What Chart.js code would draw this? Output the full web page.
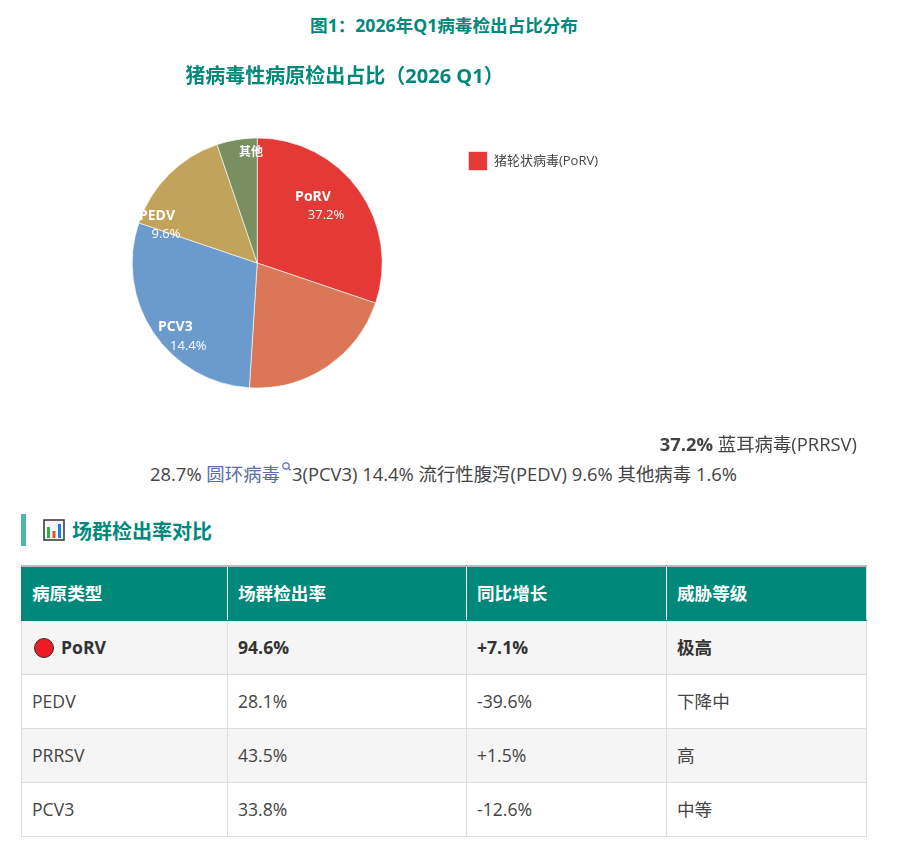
<!DOCTYPE html>
<html lang="zh">
<head>
  <meta charset="UTF-8">
  <title>2026年Q1病毒检出占比分布</title>
  <script src="https://cdn.jsdelivr.net/npm/chart.js"></script>
  <style>
    html, body { margin: 0; padding: 0; background: #fff; }
    body { width: 897px; height: 844px; position: relative; overflow: hidden; color: #444; font-family: "Open Sans", "Noto Sans CJK SC", sans-serif; font-size: 17.6px; }
    .fig-title { position: absolute; left: 0; width: 888px; top: 13px; text-align: center; font-size: 17.6px; line-height: 24px; font-weight: 700; color: #00897b; }
    .chart-box { position: absolute; left: 0; top: 48px; width: 680px; height: 400px; }
    .line { position: absolute; line-height: 26px; white-space: nowrap; font-size: 18.4px; }
    .line1 { right: 40px; top: 431px; }
    .line2 { left: 150px; top: 461px; }
    .link { color: #5a6fa5; }
    .section { position: absolute; left: 21px; top: 514px; height: 32px; border-left: 5px solid #4db6ac; padding-left: 17px; display: flex; align-items: center; font-size: 20px; font-weight: 700; color: #00897b; }
    .section svg { margin-right: 7px; }
    table { position: absolute; left: 21px; top: 565px; width: 845px; border-collapse: collapse; table-layout: fixed; border-top: 2px solid #bbb; }
    th, td { height: 51px; padding: 0 10px 2px; text-align: left; border: 1px solid #ddd; line-height: 24px; }
    th { background: #00897b; color: #fff; font-weight: 700; border-color: #00897b; border-right-color: #fff; }
    th:last-child { border-right-color: #ddd; }
    tr.alt td { background: #f5f5f5; }
    tr.top td { font-weight: 700; color: #333; }
    .dot { display: inline-block; width: 20px; height: 20px; border-radius: 50%; background: #ed1c24; border: 1px solid #333; vertical-align: -4px; margin-right: 7px; margin-left: 2px; box-sizing: border-box; }
  </style>
</head>
<body>
  <div class="fig-title">图1：2026年Q1病毒检出占比分布</div>
  <div class="chart-box"><canvas id="pieChart" width="680" height="400"></canvas></div>

  <div class="line line1"><b>37.2%</b> 蓝耳病毒(PRRSV)</div>
  <div class="line line2">28.7% <span class="link">圆环病毒</span><svg width="12" height="14" viewBox="0 0 12 14" style="vertical-align:6px"><circle cx="6" cy="5" r="3.2" fill="none" stroke="#5a6fa5" stroke-width="1.2"/><line x1="8.4" y1="7.4" x2="10.5" y2="9.5" stroke="#5a6fa5" stroke-width="1.2"/></svg>3(PCV3) 14.4% 流行性腹泻(PEDV) 9.6% 其他病毒 1.6%</div>

  <div class="section">
    <svg width="22" height="22" viewBox="0 0 22 22"><rect x="1" y="1" width="20" height="20" fill="#f4f4f4" stroke="#333" stroke-width="1.5"/><rect x="4" y="8" width="3" height="11" fill="#2fb344"/><rect x="9.5" y="12" width="3" height="7" fill="#e5532d"/><rect x="15" y="5" width="3" height="14" fill="#1f7fdc"/></svg>
    <span>场群检出率对比</span>
  </div>

  <table>
    <colgroup><col style="width:206px"><col style="width:239px"><col style="width:200px"><col style="width:200px"></colgroup>
    <thead id="tableHead"></thead>
    <tbody id="tableBody"></tbody>
  </table>

  <script>
    // pie data, clockwise from 12 o'clock
    const legendNames = ['猪轮状病毒(PoRV)', '蓝耳病毒(PRRSV)', '圆环病毒3(PCV3)', '流行性腹泻(PEDV)', '其他病毒'];
    const sliceValues = [30.2, 20.8, 29.2, 14.6, 5.2];
    const sliceColors = ['#e53935', '#d97757', '#6b9bcd', '#c2a35c', '#7a8f5f'];
    const sliceNames = ['PoRV', '', 'PCV3', 'PEDV', '其他'];
    const sliceShares = ['37.2%', '', '14.4%', '9.6%', ''];

    // table data
    const tableHeaders = ['病原类型', '场群检出率', '同比增长', '威胁等级'];
    const pathogens = ['PoRV', 'PEDV', 'PRRSV', 'PCV3'];
    const detectionRates = ['94.6%', '28.1%', '43.5%', '33.8%'];
    const yoyChanges = ['+7.1%', '-39.6%', '+1.5%', '-12.6%'];
    const threatLevels = ['极高', '下降中', '高', '中等'];

    document.getElementById('tableHead').innerHTML =
      '<tr>' + tableHeaders.map(h => `<th>${h}</th>`).join('') + '</tr>';
    document.getElementById('tableBody').innerHTML = pathogens.map((p, i) => {
      const cls = (i % 2 === 0 ? 'alt' : '') + (i === 0 ? ' top' : '');
      const dot = i === 0 ? '<span class="dot"></span>' : '';
      return `<tr class="${cls}"><td>${dot}${p}</td><td>${detectionRates[i]}</td><td>${yoyChanges[i]}</td><td>${threatLevels[i]}</td></tr>`;
    }).join('');

    const fontFamily = '"Open Sans", "Noto Sans CJK SC", sans-serif';

    // labels sit on the slices, nudged off the arc centre
    const labelOffsets = [
      { name: [5, -30], share: [18, -11] },
      null,
      { name: [-30, 29], share: [-17, 48] },
      { name: [-56, -3], share: [-47, 15] },
      { name: [4, -49], share: [0, 0] }
    ];

    const sliceLabels = {
      id: 'sliceLabels',
      afterDatasetsDraw(chart) {
        const { ctx } = chart;
        const arcs = chart.getDatasetMeta(0).data;
        ctx.save();
        ctx.fillStyle = '#fff';
        ctx.textAlign = 'center';
        ctx.textBaseline = 'middle';
        arcs.forEach((arc, i) => {
          const off = labelOffsets[i];
          if (!off) return;
          const pos = arc.tooltipPosition();
          ctx.font = `700 ${i === 4 ? 12 : 14}px ${fontFamily}`;
          ctx.fillText(sliceNames[i], pos.x + off.name[0], pos.y + off.name[1]);
          if (sliceShares[i]) {
            ctx.font = `400 13px ${fontFamily}`;
            ctx.fillText(sliceShares[i], pos.x + off.share[0], pos.y + off.share[1]);
          }
        });
        ctx.restore();
      }
    };

    new Chart(document.getElementById('pieChart').getContext('2d'), {
      type: 'pie',
      data: {
        labels: legendNames,
        datasets: [{
          data: sliceValues,
          backgroundColor: sliceColors,
          borderColor: 'rgba(255,255,255,0.6)',
          borderWidth: 1,
          radius: 125
        }]
      },
      options: {
        responsive: false,
        animation: false,
        layout: { padding: { left: 81, right: 72, bottom: 38.5 } },
        plugins: {
          title: {
            display: true,
            text: '猪病毒性病原检出占比（2026 Q1）',
            color: '#00897b',
            font: { family: fontFamily, size: 20, weight: '700' },
            padding: { top: 17, bottom: 27.5 }
          },
          legend: {
            position: 'right',
            align: 'start',
            fullSize: false,
            labels: {
              filter: item => item.index === 0,
              boxWidth: 19,
              boxHeight: 19,
              padding: 35,
              color: '#444',
              font: { family: fontFamily, size: 13 }
            }
          },
          tooltip: { enabled: false }
        }
      },
      plugins: [sliceLabels]
    });
  </script>
</body>
</html>
